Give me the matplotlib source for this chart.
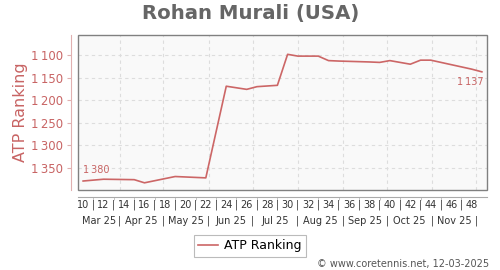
import datetime as dt
import matplotlib
matplotlib.use("Agg")
import matplotlib.pyplot as plt
import matplotlib.transforms as mtransforms
from matplotlib.patches import Rectangle

# ---- data ----
weeks = [10, 12, 15, 16, 19, 22, 24, 26, 27, 29, 30, 31, 33, 34, 35, 38, 39, 40, 42, 43, 44, 46, 48, 49]
ranks = [1380, 1376, 1377, 1384, 1370, 1373, 1169, 1176, 1170, 1167, 1098, 1102, 1102, 1112,
         1113, 1115, 1116, 1112, 1120, 1111, 1111, 1121, 1131, 1137]
week_labels = list(range(10, 49, 2))
month_labels = ["Mar 25", "Apr 25", "May 25", "Jun 25", "Jul 25", "Aug 25", "Sep 25", "Oct 25", "Nov 25"]
month_starts = [dt.date(2025, m, 1) for m in range(4, 13)]
yticks = [1100, 1150, 1200, 1250, 1300, 1350]
series_name = "ATP Ranking"
title = "Rohan Murali (USA)"
credit = "\u00a9 www.coretennis.net, 12-03-2025"

# ---- style ----
RED = "#cc6666"
TXT_RED = "#c86464"
GRID = "#dddddd"

def fmt(v):
    return f"{v:,}".replace(",", "\u2009")

ref = dt.date(2025, 3, 7)
def wpos(d):
    return 10 + (d - ref).days / 7.0

bounds = [wpos(d) for d in month_starts]
xmin, xmax = 9.5, 49.5

fig = plt.figure(figsize=(5, 2.7), dpi=100)
ax = fig.add_axes([78/500, 1 - 190/270, (487-78)/500, (190-35)/270])
ax.set_facecolor("#f9f9f9")
ax.set_xlim(xmin, xmax)
ax.set_ylim(1400, 1055)

ax.plot(weeks, ranks, color=RED, lw=1.2, label=series_name, zorder=3)

# grid
for b in bounds:
    ax.axvline(b, color=GRID, lw=0.8, ls=(0, (3, 3)), zorder=1)
for yv in yticks:
    ax.axhline(yv, color=GRID, lw=0.8, ls=(0, (3, 3)), zorder=1)

# frame
ax.add_patch(Rectangle((0, 0), 1, 1, transform=ax.transAxes, fill=False,
                       edgecolor="#808080", lw=1.0, clip_on=False, zorder=5))
ax.spines["top"].set_visible(False)
ax.spines["right"].set_visible(False)
ax.spines["left"].set_position(("outward", 5))
ax.spines["left"].set_color("#e0b0b0")
ax.spines["bottom"].set_position(("outward", 5))
ax.spines["bottom"].set_color("#aaaaaa")

ax.set_yticks(yticks)
ax.set_yticklabels([fmt(v) for v in yticks])
ax.tick_params(axis="y", colors="#e0b0b0", labelcolor=TXT_RED, labelsize=8.5, length=3, pad=3)

ax.set_xticks(bounds)
ax.set_xticklabels([])
ax.set_xticks(list(range(11, 49, 2)), minor=True)
ax.tick_params(axis="x", which="major", direction="out", length=0, colors="#aaaaaa")
ax.tick_params(axis="x", which="minor", direction="out", length=2, colors="#bbbbbb")

trans = mtransforms.blended_transform_factory(ax.transData, fig.transFigure)
wy = 1 - 205/270
my = 1 - 221/270
for w in week_labels:
    ax.text(w, wy, str(w), transform=trans, ha="center", va="center", fontsize=7, color="#333333")
for w in range(11, 49, 2):
    ax.text(w, wy, "|", transform=trans, ha="center", va="center", fontsize=7, color="#333333")
edges = [xmin] + bounds
for i, lab in enumerate(month_labels):
    c = (edges[i] + edges[i + 1]) / 2
    ax.text(c, my, lab, transform=trans, ha="center", va="center", fontsize=7, color="#333333")
for b in bounds:
    ax.text(b, my, "|", transform=trans, ha="center", va="center", fontsize=7, color="#333333")

# annotations
ax.annotate(fmt(ranks[0]), (weeks[0], ranks[0]), xytext=(0, 4),
            textcoords="offset points", ha="left", va="bottom", fontsize=7, color=TXT_RED)
ax.annotate(fmt(ranks[-1]), (weeks[-1], ranks[-1]), xytext=(1, -4),
            textcoords="offset points", ha="right", va="top", fontsize=7, color=TXT_RED)

fig.text(21/500, 1 - 112/270, "ATP Ranking", rotation=90, ha="center", va="center",
         fontsize=11.5, color=TXT_RED)
fig.text(251/500, 1 - 13/270, title, ha="center", va="center", fontsize=14.2,
         fontweight="bold", color="#666666")

leg = fig.legend(loc="center", bbox_to_anchor=(250/500, 1 - 246/270), fontsize=9,
                 frameon=True, fancybox=False, edgecolor="#aaaaaa", handlelength=1.6,
                 borderpad=0.35, handletextpad=0.5)
leg.get_frame().set_linewidth(0.8)

fig.text(489/500, 1 - 264/270, credit, ha="right", va="center", fontsize=7, color="#555555")

fig.savefig("out.png", dpi=100)
